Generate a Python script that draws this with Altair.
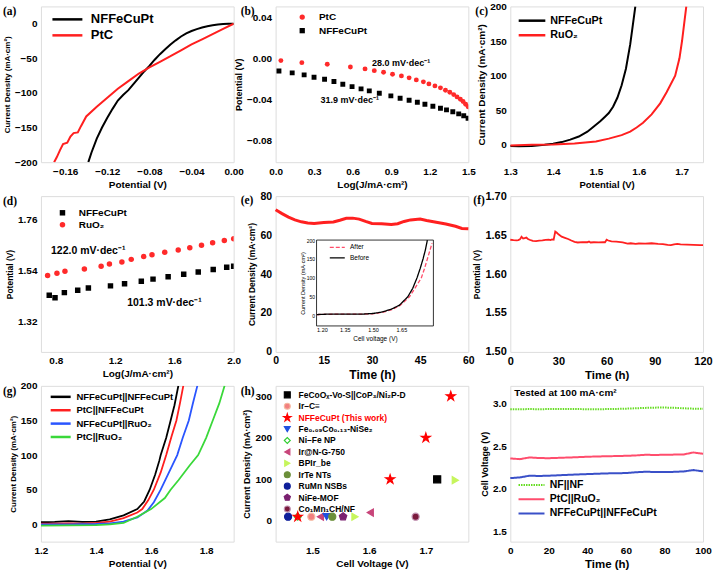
import altair as alt
import pandas as pd

SANS = "Liberation Sans"
SERIF = "Liberation Serif"
W, H = 193, 156

# ---------------- (a) HER polarization ----------------
A_NF_V = [-0.138, -0.135, -0.130, -0.125, -0.120, -0.115, -0.110, -0.105, -0.100, -0.095, -0.090, -0.085,
          -0.080, -0.075, -0.070, -0.065, -0.060, -0.055, -0.050, -0.045, -0.040, -0.035, -0.030, -0.025,
          -0.020, -0.015, -0.010, -0.005, 0.000]
A_NF_J = [-200, -186, -166, -150, -136, -123, -111, -103, -96, -87, -78, -69, -61, -52, -44, -37, -30, -24,
          -18.5, -14, -10.5, -7.8, -5.5, -3.7, -2.3, -1.3, -0.6, -0.2, 0]
A_PT_V = [-0.1705, -0.168, -0.165, -0.162, -0.158, -0.155, -0.152, -0.148, -0.145, -0.140, -0.130, -0.120,
          -0.110, -0.100, -0.090, -0.080, -0.070, -0.060, -0.050, -0.040, -0.030, -0.020, -0.010, 0.000]
A_PT_J = [-200, -193, -183, -174, -172, -163, -158, -157, -148, -134, -120, -107, -94, -83, -72, -63, -55,
          -47, -38.5, -30, -22.5, -15, -7.5, 0]

# ---------------- (b) HER Tafel ----------------
B_PT_L = [0.041, 0.204, 0.402, 0.582, 0.696, 0.768, 0.840, 0.910, 0.979, 1.039, 1.095, 1.150, 1.193, 1.240,
          1.283, 1.322, 1.356, 1.386, 1.412, 1.438, 1.459, 1.479, 1.498]
B_PT_E = [-0.0022, -0.0042, -0.0058, -0.0084, -0.0103, -0.0120, -0.0136, -0.0155, -0.0171, -0.0190, -0.0210,
          -0.0229, -0.0249, -0.0268, -0.0287, -0.0311, -0.0330, -0.0353, -0.0375, -0.0398, -0.0420, -0.0447,
          -0.0472]
B_NF_L = [0.026, 0.129, 0.222, 0.299, 0.381, 0.454, 0.523, 0.595, 0.665, 0.729, 0.807, 0.897, 0.969, 1.039,
          1.103, 1.162, 1.224, 1.283, 1.330, 1.379, 1.425, 1.464, 1.498]
B_NF_E = [-0.0123, -0.0142, -0.0161, -0.0184, -0.0204, -0.0226, -0.0252, -0.0275, -0.0297, -0.0317, -0.0340,
          -0.0365, -0.0388, -0.0408, -0.0427, -0.0447, -0.0466, -0.0486, -0.0501, -0.0520, -0.0540, -0.0559,
          -0.0583]

# ---------------- (c) OER polarization ----------------
C_NF_V = [1.300, 1.320, 1.350, 1.380, 1.400, 1.420, 1.440, 1.460, 1.480, 1.490, 1.500, 1.510, 1.520, 1.530,
          1.540, 1.550, 1.560, 1.570, 1.580, 1.585, 1.592]
C_NF_J = [-1.5, -2, -1.5, 0, 1.5, 4, 7.5, 12, 19, 24, 29, 34, 40, 46, 55, 68, 86, 110, 145, 168, 200]
C_RU_V = [1.300, 1.350, 1.400, 1.450, 1.500, 1.530, 1.560, 1.580, 1.595, 1.610, 1.630, 1.650, 1.665, 1.685,
          1.695, 1.701, 1.706, 1.711]
C_RU_J = [-1, 0, 0.5, 2, 5, 9, 14, 19, 25, 32, 44, 60, 76, 100, 125, 150, 175, 200]

# ---------------- (d) OER Tafel ----------------
D_NF_L = [0.756, 0.795, 0.858, 0.948, 1.020, 1.169, 1.264, 1.377, 1.456, 1.558, 1.663, 1.761, 1.862, 1.953, 2.000]
D_NF_E = [1.434, 1.423, 1.445, 1.455, 1.465, 1.474, 1.483, 1.494, 1.503, 1.513, 1.524, 1.534, 1.544, 1.554, 1.558]
D_RU_L = [0.745, 0.808, 0.862, 0.993, 1.106, 1.162, 1.246, 1.309, 1.393, 1.449, 1.535, 1.626, 1.704, 1.783,
          1.858, 1.937, 2.000]
D_RU_E = [1.519, 1.528, 1.537, 1.547, 1.558, 1.568, 1.577, 1.588, 1.600, 1.608, 1.619, 1.628, 1.638, 1.649,
          1.659, 1.669, 1.677]

# ---------------- (e) chronoamperometry + inset ----------------
E_T = [0, 2, 4, 6, 8, 10, 12, 15, 18, 20, 22, 24, 26, 28, 30, 33, 36, 38, 40, 42, 45, 47, 50, 53, 56, 58, 60]
E_J = [73.0, 71.0, 69.2, 67.8, 66.8, 66.2, 66.0, 66.4, 66.7, 67.6, 68.6, 68.7, 68.2, 67.0, 66.0, 65.8, 65.4,
       65.8, 67.0, 67.8, 68.2, 67.5, 66.6, 65.7, 64.5, 63.4, 63.2]
E_BEF_V = [1.20, 1.25, 1.30, 1.35, 1.40, 1.45, 1.50, 1.55, 1.60, 1.64, 1.684, 1.71, 1.733, 1.75, 1.765, 1.778, 1.788]
E_BEF_J = [3, 4, 4.5, 4, 4, 4.5, 6, 10, 18, 28, 50, 72, 100, 125, 150, 175, 200]
E_AFT_V = [1.20, 1.30, 1.40, 1.50, 1.55, 1.60, 1.64, 1.693, 1.725, 1.756, 1.773, 1.788, 1.80, 1.813]
E_AFT_J = [3, 4, 4, 5, 9, 16, 26, 50, 75, 100, 125, 150, 170, 192]

# ---------------- (f) chronopotentiometry ----------------
F_T = [0, 2, 4, 5, 6, 7, 8, 9, 10, 11, 12, 14, 16, 18, 20, 22, 24, 25, 26, 27, 28, 29, 30, 32, 34, 36, 38, 40,
       42, 45, 48, 49, 50, 52, 55, 58, 59, 60, 61, 63, 66, 70, 73, 75, 78, 80, 84, 88, 92, 95, 98, 100, 102,
       104, 106, 110, 114, 118, 120]
F_E = [1.6440, 1.6435, 1.6432, 1.6435, 1.6445, 1.6478, 1.6455, 1.6462, 1.6468, 1.6450, 1.6440, 1.6425, 1.6422,
       1.6428, 1.6432, 1.6438, 1.6440, 1.6435, 1.6445, 1.6440, 1.6545, 1.6530, 1.6510, 1.6480, 1.6465, 1.6450,
       1.6430, 1.6412, 1.6405, 1.6410, 1.6408, 1.6418, 1.6405, 1.6408, 1.6405, 1.6410, 1.6408, 1.6440, 1.6430,
       1.6420, 1.6415, 1.6405, 1.6390, 1.6395, 1.6388, 1.6392, 1.6390, 1.6395, 1.6388, 1.6385, 1.6375, 1.6372,
       1.6382, 1.6388, 1.6380, 1.6378, 1.6375, 1.6372, 1.6370]

# ---------------- (g) two-electrode polarization ----------------
G_NAMES = ["NFFeCuPt||NFFeCuPt", "PtC||NFFeCuPt", "NFFeCuPt||RuO₂", "PtC||RuO₂"]
G_V1 = [1.20, 1.25, 1.30, 1.35, 1.40, 1.45, 1.50, 1.55, 1.575, 1.595, 1.615, 1.63, 1.635, 1.655, 1.671, 1.685, 1.699]
G_J1 = [3, 3.5, 4.5, 3.5, 4, 7, 13, 22, 33, 50, 72, 92, 100, 125, 150, 172, 200]
G_V2 = [1.20, 1.25, 1.30, 1.35, 1.40, 1.45, 1.50, 1.55, 1.568, 1.59, 1.61, 1.635, 1.655, 1.675, 1.692, 1.705, 1.717]
G_J2 = [1, 1, 1.5, 1, 2, 4, 9, 17, 22, 35, 50, 75, 100, 128, 150, 175, 200]
G_V3 = [1.20, 1.30, 1.40, 1.45, 1.50, 1.55, 1.587, 1.61, 1.635, 1.665, 1.695, 1.715, 1.737, 1.752, 1.768]
G_J3 = [0, 0, 0.5, 1.5, 4, 10, 20, 32, 50, 75, 100, 125, 150, 175, 200]
G_V4 = [1.20, 1.30, 1.40, 1.45, 1.50, 1.55, 1.60, 1.65, 1.671, 1.70, 1.74, 1.771, 1.80, 1.824, 1.848, 1.867]
G_J4 = [-2, -1.5, -1, 0, 2, 11, 22, 38, 50, 64, 85, 100, 125, 150, 175, 200]

# ---------------- (h) comparison ----------------
H_NAMES = ["FeCoOₓ-Vo-S||CoP₃/Ni₂P-D", "Ir–C≡", "NFFeCuPt (This work)", "Fe₀.₀₉Co₀.₁₃-NiSe₂", "Ni–Fe NP",
           "Ir@N-G-750", "BPIr_be", "IrTe NTs", "RuMn NSBs", "NiFe-MOF", "Co₁Mn₁CH/NF"]
H_S = ["RuMn NSBs", "Ni–Fe NP", "NFFeCuPt (This work)", "Ir–C≡", "Ir@N-G-750", "Fe₀.₀₉Co₀.₁₃-NiSe₂",
       "IrTe NTs", "NiFe-MOF", "BPIr_be", "Ir@N-G-750", "NFFeCuPt (This work)", "Co₁Mn₁CH/NF",
       "NFFeCuPt (This work)", "FeCoOₓ-Vo-S||CoP₃/Ni₂P-D", "BPIr_be", "NFFeCuPt (This work)"]
H_X = [1.457, 1.474, 1.474, 1.498, 1.514, 1.525, 1.535, 1.554, 1.575, 1.602, 1.637, 1.682, 1.700, 1.720, 1.752, 1.744]
H_Y = [10, 10, 10, 10, 10, 10, 10, 10, 10, 20, 100, 10, 200, 100, 98, 300]

# ---------------- (i) stability ----------------
I_NAMES = ["NF||NF", "PtC||RuO₂", "NFFeCuPt||NFFeCuPt"]
I_T = [0, 5, 10, 15, 20, 25, 30, 35, 40, 45, 50, 55, 60, 65, 70, 75, 80, 85, 90, 95, 100]
I_NF = [2.934, 2.934, 2.935, 2.934, 2.935, 2.935, 2.936, 2.935, 2.934, 2.933, 2.935, 2.937, 2.940, 2.944, 2.949,
        2.952, 2.953, 2.950, 2.944, 2.940, 2.938]
I_PT = [2.357, 2.349, 2.369, 2.362, 2.360, 2.364, 2.368, 2.372, 2.377, 2.380, 2.383, 2.385, 2.388, 2.392, 2.400,
        2.398, 2.400, 2.402, 2.404, 2.427, 2.412]
I_NN = [2.127, 2.135, 2.155, 2.152, 2.155, 2.160, 2.165, 2.170, 2.174, 2.178, 2.182, 2.184, 2.186, 2.195, 2.201,
        2.199, 2.197, 2.200, 2.205, 2.221, 2.206]

STAR = ("M0,-1.35L0.304,-0.417L1.284,-0.417L0.49,0.159L0.794,1.092L0,0.516L-0.794,1.092L-0.49,0.159"
        "L-1.284,-0.417L-0.304,-0.417Z")
PENT = "M0,-1.1L1.046,-0.34L0.647,0.89L-0.647,0.89L-1.046,-0.34Z"


def long_df(series):
    rows = []
    for name, (xs, ys) in series.items():
        for k, (x, y) in enumerate(zip(xs, ys)):
            rows.append({"s": name, "x": x, "y": y, "k": k})
    return pd.DataFrame(rows)


def sc(lo, hi, **kw):
    return alt.Scale(domain=[lo, hi], nice=False, zero=False, **kw)


def ax(values, title, fmt=None, tsize=10, lsize=10, tpad=3, lpad=4, **kw):
    d = dict(values=values, title=title, ticks=False, domain=False, grid=False,
             labelFont=SANS, labelFontWeight="bold", labelFontSize=lsize, labelColor="black",
             labelPadding=lpad, labelOverlap=False, labelFlush=False,
             titleFont=SANS, titleFontWeight="bold", titleFontSize=tsize, titleColor="black",
             titlePadding=tpad)
    if fmt is not None:
        d["format"] = fmt
    d.update(kw)
    return alt.Axis(**d)


def line_leg(x1, length, xl, y1, pitch, fs, sw=2.5, weight="bold"):
    half = length / 4.0
    lx = x1 + length / 2.0 - 2.0
    return alt.Legend(title=None, orient="none", legendX=lx, legendY=y1 - fs / 2.0,
                      symbolType=f"M{-half:.2f},0H{half:.2f}", symbolSize=16, symbolStrokeWidth=sw,
                      labelOffset=xl - lx - 4.0, rowPadding=pitch - fs, padding=0,
                      labelFont=SANS, labelFontWeight=weight, labelFontSize=fs, labelColor="black",
                      labelLimit=400)


def pt_leg(cx, xl, y1, pitch, fs, sz, **kw):
    s = sz ** 0.5
    lx = cx - s / 2.0
    d = dict(title=None, orient="none", legendX=lx, legendY=y1 - fs / 2.0, symbolSize=sz,
             labelOffset=xl - lx - s, rowPadding=pitch - fs, padding=0, labelFont=SANS,
             labelFontWeight="bold", labelFontSize=fs, labelColor="black", labelLimit=400)
    d.update(kw)
    return alt.Legend(**d)


def plabel(txt, dx, dy=6):
    return alt.Chart(pd.DataFrame({"t": [txt]})).mark_text(
        font=SERIF, fontWeight="bold", fontSize=11.5, align="left", baseline="middle", color="black"
    ).encode(x=alt.value(dx), y=alt.value(dy), text="t:N")


def notes(df, xenc, yenc, fs):
    return alt.Chart(df).mark_text(font=SANS, fontWeight="bold", fontSize=fs, align="left",
                                   baseline="middle", color="black").encode(x=xenc, y=yenc, text="t:N")


# ---------- panel a ----------
dfa = long_df({"NFFeCuPt": (A_NF_V, A_NF_J), "PtC": (A_PT_V, A_PT_J)})
xa = alt.X("x:Q", scale=sc(-0.183, 0), axis=ax([-0.16, -0.12, -0.08, -0.04, 0.0], "Potential (V)", ".2f"))
ya = alt.Y("y:Q", scale=sc(-200, 25), axis=ax([-200, -150, -100, -50, 0], "Current Density (mA·cm²)", tsize=8))
pa = alt.layer(
    alt.Chart(dfa).mark_line(strokeWidth=2, clip=True).encode(
        x=xa, y=ya, order="k:Q",
        color=alt.Color("s:N", scale=alt.Scale(domain=["NFFeCuPt", "PtC"], range=["#000000", "#ff1f1f"]),
                        legend=line_leg(7, 30, 41, 13, 15, 13))),
    plabel("(a)", -38),
).properties(width=W, height=H)

# ---------- panel b ----------
dfb = long_df({"PtC": (B_PT_L, B_PT_E), "NFFeCuPt": (B_NF_L, B_NF_E)})
xb = alt.X("x:Q", scale=sc(0, 1.5), axis=ax([0, 0.3, 0.6, 0.9, 1.2, 1.5], "Log(J/mA·cm²)", ".1f"))
yb = alt.Y("y:Q", scale=sc(-0.101, 0.0505), axis=ax([-0.08, -0.04, 0.0, 0.04], "Potential (V)", ".2f", tsize=9))
leg_b = pt_leg(24.3, 38.7, 10.7, 13.6, 10, 28)
pb = alt.layer(
    alt.Chart(dfb).mark_point(filled=True, size=24, opacity=1, clip=True).encode(
        x=xb, y=yb,
        color=alt.Color("s:N", scale=alt.Scale(domain=["PtC", "NFFeCuPt"], range=["#ff2a2a", "#000000"]), legend=leg_b),
        shape=alt.Shape("s:N", scale=alt.Scale(domain=["PtC", "NFFeCuPt"], range=["circle", "square"]), legend=leg_b)),
    notes(pd.DataFrame({"x": [0.75, 0.35], "y": [-0.0042, -0.041], "t": ["28.0 mV·dec⁻¹", "31.9 mV·dec⁻¹"]}), xb, yb, 9),
    plabel("(b)", -35),
).properties(width=W, height=H)

# ---------- panel c ----------
dfc = long_df({"NFFeCuPt": (C_NF_V, C_NF_J), "RuO₂": (C_RU_V, C_RU_J)})
xc = alt.X("x:Q", scale=sc(1.3, 1.75), axis=ax([1.3, 1.4, 1.5, 1.6, 1.7], "Potential (V)", ".1f", tsize=9.5))
yc = alt.Y("y:Q", scale=sc(-25, 200), axis=ax([0, 50, 100, 150, 200], "Current Density (mA·cm²)", tsize=10))
pc = alt.layer(
    alt.Chart(dfc).mark_line(strokeWidth=2, clip=True).encode(
        x=xc, y=yc, order="k:Q",
        color=alt.Color("s:N", scale=alt.Scale(domain=["NFFeCuPt", "RuO₂"], range=["#000000", "#ff1f1f"]),
                        legend=line_leg(5, 26.7, 33.3, 14.3, 13.4, 10.8))),
    plabel("(c)", -35),
).properties(width=W, height=H)

# ---------- panel d ----------
dfd = long_df({"NFFeCuPt": (D_NF_L, D_NF_E), "RuO₂": (D_RU_L, D_RU_E)})
xd = alt.X("x:Q", scale=sc(0.7, 2.0), axis=ax([0.8, 1.2, 1.6, 2.0], "Log(J/mA·cm²)", ".1f"))
yd = alt.Y("y:Q", scale=sc(1.19, 1.86), axis=ax([1.32, 1.54, 1.76], "Potential (V)", ".2f", tsize=8.5))
leg_d = pt_leg(19.3, 33.3, 16.7, 12, 10, 30)
pdd = alt.layer(
    alt.Chart(dfd).mark_point(filled=True, size=30, opacity=1, clip=True).encode(
        x=xd, y=yd,
        color=alt.Color("s:N", scale=alt.Scale(domain=["NFFeCuPt", "RuO₂"], range=["#000000", "#ff2a2a"]), legend=leg_d),
        shape=alt.Shape("s:N", scale=alt.Scale(domain=["NFFeCuPt", "RuO₂"], range=["square", "circle"]), legend=leg_d)),
    notes(pd.DataFrame({"x": [0.768, 1.282], "y": [1.622, 1.402], "t": ["122.0 mV·dec⁻¹", "101.3 mV·dec⁻¹"]}), xd, yd, 10.5),
    plabel("(d)", -38),
).properties(width=W, height=H)

# ---------- panel e ----------
dfe = pd.DataFrame({"x": E_T, "y": E_J})
xe = alt.X("x:Q", scale=sc(0, 60), axis=ax([0, 15, 30, 45, 60], "Time (h)", tsize=12, lsize=10.5))
ye = alt.Y("y:Q", scale=sc(0, 80), axis=ax([0, 20, 40, 60, 80], "Current Density (mA·cm²)", tsize=8.5, lsize=10.5))
e_main = alt.Chart(dfe).mark_line(color="#ff2020", strokeWidth=3).encode(x=xe, y=ye)

xin_axis = alt.Axis(values=[1.20, 1.35, 1.50, 1.65], format=".2f", orient="bottom", offset=-(H - 130),
                    title="Cell voltage (V)", ticks=False, domain=False, grid=False, labelFont=SANS,
                    labelFontSize=5.5, labelColor="black", labelPadding=2, titleFont=SANS, titleFontSize=6.5,
                    titleFontWeight="normal", titleColor="black", titlePadding=2)
yin_axis = alt.Axis(values=[0, 50, 100, 150, 200], orient="left", offset=-41, title="Current Density (mA·cm²)",
                    ticks=False, domain=False, grid=False, labelFont=SANS, labelFontSize=5, labelColor="black",
                    labelPadding=2, titleFont=SANS, titleFontSize=5.5, titleFontWeight="normal",
                    titleColor="black", titlePadding=1)
xin = alt.X("x:Q", scale=sc(1.2, 1.82, range=[41, 158]), axis=xin_axis)
yin = alt.Y("y:Q", scale=sc(-27, 200, range=[130, 44]), axis=yin_axis)
dfin = long_df({"After": (E_AFT_V, E_AFT_J), "Before": (E_BEF_V, E_BEF_J)})
leg_in = line_leg(53, 15, 72, 51.3, 10, 6.5, sw=1.3, weight="normal")
in_lines = alt.Chart(dfin).mark_line(strokeWidth=1.3).encode(
    x=xin, y=yin, order="k:Q",
    color=alt.Color("s:N", scale=alt.Scale(domain=["After", "Before"], range=["#ff4d6a", "#000000"]), legend=leg_in),
    strokeDash=alt.StrokeDash("s:N", scale=alt.Scale(domain=["After", "Before"], range=[[4, 2], [1, 0]]), legend=leg_in))
in_frame = alt.Chart(pd.DataFrame({"x": [1.2], "x2": [1.82], "y": [-27], "y2": [200]})).mark_rect(
    fillOpacity=0, stroke="black", strokeWidth=0.8).encode(x=xin, x2="x2:Q", y=yin, y2="y2:Q")
pe = alt.layer(e_main, alt.layer(in_frame, in_lines), plabel("(e)", -35, 5)).resolve_scale(
    x="independent", y="independent").properties(width=W, height=H)

# ---------- panel f ----------
dff = pd.DataFrame({"x": F_T, "y": F_E})
xf = alt.X("x:Q", scale=sc(0, 120), axis=ax([0, 30, 60, 90, 120], "Time (h)", tsize=11.5, lsize=11))
yf = alt.Y("y:Q", scale=sc(1.50, 1.70), axis=ax([1.50, 1.55, 1.60, 1.65, 1.70], "Potential (V)", ".2f", tsize=8.5, lsize=11))
pf = alt.layer(
    alt.Chart(dff).mark_line(color="#ff2020", strokeWidth=1.8).encode(x=xf, y=yf),
    plabel("(f)", -37, 5),
).properties(width=W, height=H)

# ---------- panel g ----------
dfg = long_df({G_NAMES[0]: (G_V1, G_J1), G_NAMES[1]: (G_V2, G_J2), G_NAMES[2]: (G_V3, G_J3), G_NAMES[3]: (G_V4, G_J4)})
xg = alt.X("x:Q", scale=sc(1.2, 1.9), axis=ax([1.2, 1.4, 1.6, 1.8], "Potential (V)", ".1f"))
yg = alt.Y("y:Q", scale=sc(-25, 200), axis=ax([0, 50, 100, 150, 200], "Current Density (mA·cm²)", tsize=8))
pg = alt.layer(
    alt.Chart(dfg).mark_line(strokeWidth=1.8, clip=True).encode(
        x=xg, y=yg, order="k:Q",
        color=alt.Color("s:N", scale=alt.Scale(domain=G_NAMES, range=["#000000", "#ff1f1f", "#2a55ff", "#3ad83a"]),
                        legend=line_leg(7, 20, 30, 11, 11.9, 9.5))),
    plabel("(g)", -38, 6.5),
).properties(width=W, height=H)

# ---------- panel h ----------
dfh = pd.DataFrame({"s": H_S, "x": H_X, "y": H_Y})
xh = alt.X("x:Q", scale=sc(1.435, 1.775), axis=ax([1.5, 1.6, 1.7], "Cell Voltage (V)", ".1f"))
yh = alt.Y("y:Q", scale=sc(-50, 325), axis=ax([0, 100, 200, 300], "Current Density (mA·cm²)", tsize=9))
H_SHAPES = ["square", "circle", STAR, "triangle-down", "diamond", "triangle-left", "triangle-right", "circle",
            "circle", PENT, "circle"]
H_FILL = ["#000000", "#f28080", "#ff0000", "#2050e0", "#ffffff", "#c8457a", "#c6f55c", "#6b8f3a", "#0f1f9a",
          "#7a2070", "#7a1a3c"]
H_STROKE = ["#000000", "#f5b8a0", "#ff0000", "#2050e0", "#2ecc2e", "#c8457a", "#c6f55c", "#6b8f3a", "#0f1f9a",
            "#7a2070", "#c090b0"]
sh_h = alt.Shape("s:N", scale=alt.Scale(domain=H_NAMES, range=H_SHAPES), legend=None)
fi_h = alt.Fill("s:N", scale=alt.Scale(domain=H_NAMES, range=H_FILL), legend=None)
st_h = alt.Stroke("s:N", scale=alt.Scale(domain=H_NAMES, range=H_STROKE), legend=None)
h_pts = alt.Chart(dfh).mark_point(filled=True, size=50, strokeWidth=1.2, opacity=1).encode(
    x=xh, y=yh, shape=sh_h, fill=fi_h, stroke=st_h)
# legend block for (h), drawn as its own small layer (rows through a row scale)
dfh_leg = pd.DataFrame({"s": H_NAMES, "r": list(range(len(H_NAMES)))})
y_leg = alt.Y("r:Q", scale=alt.Scale(domain=[0, len(H_NAMES) - 1], range=[9, 123.3]), axis=None)
h_leg_sym = alt.Chart(dfh_leg).mark_point(filled=True, size=36, strokeWidth=1.1, opacity=1).encode(
    x=alt.value(11.7), y=y_leg, shape=sh_h, fill=fi_h, stroke=st_h)
h_leg_txt = alt.Chart(dfh_leg).mark_text(font=SANS, fontWeight="bold", fontSize=8.5, align="left",
                                         baseline="middle").encode(
    x=alt.value(23), y=y_leg, text="s:N",
    color=alt.when(alt.datum.s == "NFFeCuPt (This work)").then(alt.value("#ff0000")).otherwise(alt.value("#000000")))
ph = alt.layer(h_pts, h_leg_sym, h_leg_txt, plabel("(h)", -35)).resolve_scale(y="independent").properties(
    width=W, height=H)

# ---------- panel i ----------
dfi = long_df({I_NAMES[0]: (I_T, I_NF), I_NAMES[1]: (I_T, I_PT), I_NAMES[2]: (I_T, I_NN)})
xi = alt.X("x:Q", scale=sc(0, 100), axis=ax([0, 20, 40, 60, 80, 100], "Time (h)", tsize=11.5))
yi = alt.Y("y:Q", scale=sc(1.383, 3.207), axis=ax([1.5, 2.0, 2.5, 3.0], "Cell Voltage (V)", ".1f", tsize=9))
leg_i = line_leg(5, 26, 33, 99.3, 13.7, 10.5, sw=2)
pi = alt.layer(
    alt.Chart(dfi).mark_line(strokeWidth=2).encode(
        x=xi, y=yi, order="k:Q",
        color=alt.Color("s:N", scale=alt.Scale(domain=I_NAMES, range=["#66dd22", "#ff4d6d", "#3a50c8"]), legend=leg_i),
        strokeDash=alt.StrokeDash("s:N", scale=alt.Scale(domain=I_NAMES, range=[[1.5, 1], [1, 0], [1, 0]]), legend=leg_i)),
    alt.Chart(pd.DataFrame({"t": ["Tested at 100 mA·cm²"]})).mark_text(
        font=SANS, fontWeight="bold", fontSize=10, align="left", baseline="middle", color="black"
    ).encode(x=alt.value(4), y=alt.value(7), text="t:N"),
).properties(width=W, height=H)

chart = alt.concat(pa, pb, pc, pdd, pe, pf, pg, ph, pi, columns=3,
                   spacing={"row": 34, "column": 42}, bounds="flush").resolve_scale(
    color="independent", shape="independent", strokeDash="independent", fill="independent",
    stroke="independent").resolve_legend(
    color="independent", shape="independent", strokeDash="independent", fill="independent",
    stroke="independent").properties(
    padding={"left": 2, "top": 0, "right": 0, "bottom": 0}, background="white"
).configure_view(stroke="black", strokeWidth=1).configure(font=SANS)

chart.save("out.html", embed_options={"renderer": "svg", "actions": False})
